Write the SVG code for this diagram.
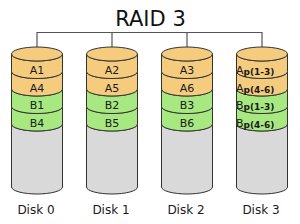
<svg xmlns="http://www.w3.org/2000/svg" xmlns:xlink="http://www.w3.org/1999/xlink" width="300" height="224" viewBox="0 0 300 224">
<style>
.o{fill:#f5cb7e;stroke:#333;stroke-width:1}
.g{fill:#a8e880;stroke:#333;stroke-width:1}
.gr{fill:#d9d9d9;stroke:#333;stroke-width:1}
.t{font-family:"DejaVu Sans",sans-serif;font-size:11px;fill:#1a1a1a;text-anchor:middle}
.s{font-family:"DejaVu Sans",sans-serif;font-size:9px;font-weight:bold;fill:#1a1a1a}
.lbl{font-family:"DejaVu Sans",sans-serif;font-size:12px;fill:#1a1a1a;text-anchor:middle}
.ttl{font-family:"DejaVu Sans",sans-serif;font-size:21px;fill:#111;text-anchor:middle}
.c{fill:none;stroke:#555;stroke-width:1.2}
</style>
<defs>
<g id="cyl">
<path class="gr" d="M-25.5,124 V187 A25.5 7 0 0 0 25.5,187 V124 A25.5 7 0 0 1 -25.5,124 Z"/>
<path class="g" d="M-25.5,106.5 V124 A25.5 7 0 0 0 25.5,124 V106.5 A25.5 7 0 0 1 -25.5,106.5 Z"/>
<path class="g" d="M-25.5,89 V106.5 A25.5 7 0 0 0 25.5,106.5 V89 A25.5 7 0 0 1 -25.5,89 Z"/>
<path class="o" d="M-25.5,71.5 V89 A25.5 7 0 0 0 25.5,89 V71.5 A25.5 7 0 0 1 -25.5,71.5 Z"/>
<path class="o" d="M-25.5,54 V71.5 A25.5 7 0 0 0 25.5,71.5 V54 A25.5 7 0 0 1 -25.5,54 Z"/>
<ellipse class="o" cx="0" cy="54" rx="25.5" ry="7"/>
</g>
</defs>
<text class="ttl" x="150.5" y="26">RAID 3</text>
<g id="connectors">
<path class="c" d="M37,54 V32.5 H262 V54 M112,32.5 V54 M187,32.5 V54"/>
</g>
<g id="disk0">
<use xlink:href="#cyl" x="37"/>
<text class="t" x="37" y="74">A1</text>
<text class="t" x="37" y="91.5">A4</text>
<text class="t" x="37" y="109">B1</text>
<text class="t" x="37" y="126.5">B4</text>
<text class="lbl" x="36" y="214">Disk 0</text>
</g>
<g id="disk1">
<use xlink:href="#cyl" x="112"/>
<text class="t" x="112" y="74">A2</text>
<text class="t" x="112" y="91.5">A5</text>
<text class="t" x="112" y="109">B2</text>
<text class="t" x="112" y="126.5">B5</text>
<text class="lbl" x="111" y="214">Disk 1</text>
</g>
<g id="disk2">
<use xlink:href="#cyl" x="187"/>
<text class="t" x="187" y="74">A3</text>
<text class="t" x="187" y="91.5">A6</text>
<text class="t" x="187" y="109">B3</text>
<text class="t" x="187" y="126.5">B6</text>
<text class="lbl" x="186" y="214">Disk 2</text>
</g>
<g id="disk3">
<use xlink:href="#cyl" x="262"/>
<text class="t" x="236" y="74" style="text-anchor:start">A<tspan class="s" dy="1">p(1-3)</tspan></text>
<text class="t" x="236" y="91.5" style="text-anchor:start">A<tspan class="s" dy="1">p(4-6)</tspan></text>
<text class="t" x="236" y="109" style="text-anchor:start">B<tspan class="s" dy="1">p(1-3)</tspan></text>
<text class="t" x="236" y="126.5" style="text-anchor:start">B<tspan class="s" dy="1">p(4-6)</tspan></text>
<text class="lbl" x="261" y="214">Disk 3</text>
</g>
</svg>
